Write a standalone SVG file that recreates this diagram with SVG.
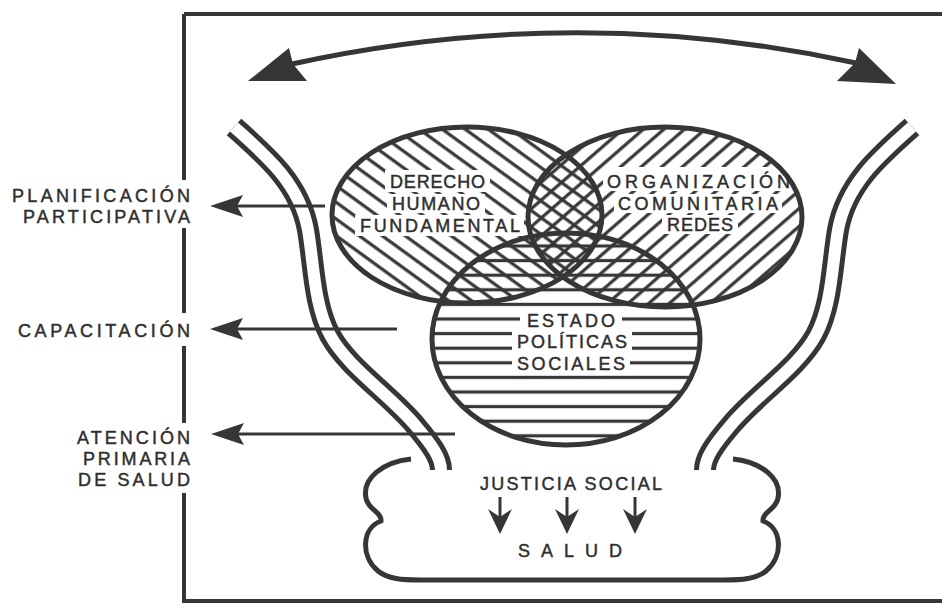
<svg xmlns="http://www.w3.org/2000/svg" width="942" height="606" viewBox="0 0 942 606">
<style>
.ln{fill:none;stroke:#363636;stroke-linecap:butt}
.ol{fill:none;stroke:#363636;stroke-width:5}
.tx{font-family:"Liberation Sans",Arial,sans-serif;font-size:18px;fill:#2e2e2e;stroke:#2e2e2e;stroke-width:0.45px}
.ko{fill:#fff}
.hd{fill:#363636}
</style>
<defs>
<pattern id="p1" patternUnits="userSpaceOnUse" width="60" height="13.5" patternTransform="rotate(36)"><rect y="5" width="60" height="3.2" fill="#363636"/></pattern>
<pattern id="p2" patternUnits="userSpaceOnUse" width="60" height="13.5" patternTransform="rotate(-41)"><rect y="5" width="60" height="3.2" fill="#363636"/></pattern>
<pattern id="p3" patternUnits="userSpaceOnUse" x="0" y="311.7" width="60" height="14.6"><rect y="5.7" width="60" height="3.2" fill="#363636"/></pattern>
</defs>
<rect width="942" height="606" fill="#fff"/>

<g id="frame" class="ln" stroke-width="4">
<path d="M184,14 H942"/>
<path d="M184,14 V180 M184,228 V313 M184,346 V423 M184,493 V601 H942"/>
</g>

<g id="top-arrow">
<path class="ln" stroke-width="5" d="M292,64 Q574,2 856,63"/>
<path class="hd" d="M248,81 L289,48 L293,64 L307,81 Z"/>
<path class="hd" d="M896,84 L859,48 L855,63 L837,81 Z"/>
</g>

<g id="vase">
<g id="vase-left">
<path class="ln" stroke-width="22" d="M234,127 C268,157 300,185 308,230 C314,265 314,305 330,335 C348,368 390,395 415,425 C432,445 441,458 441,470"/>
<path fill="none" stroke="#fff" stroke-width="12" d="M234,127 C268,157 300,185 308,230 C314,265 314,305 330,335 C348,368 390,395 415,425 C432,445 441,458 441,470"/>
</g>
<g id="vase-right" transform="translate(1146,0) scale(-1,1)">
<path class="ln" stroke-width="22" d="M234,127 C268,157 300,185 308,230 C314,265 314,305 330,335 C348,368 390,395 415,425 C432,445 441,458 441,470"/>
<path fill="none" stroke="#fff" stroke-width="12" d="M234,127 C268,157 300,185 308,230 C314,265 314,305 330,335 C348,368 390,395 415,425 C432,445 441,458 441,470"/>
</g>
</g>

<g id="circles">
<ellipse id="fill-derecho" cx="467" cy="215" rx="135" ry="88" fill="url(#p1)"/>
<ellipse id="fill-organizacion" cx="665" cy="217" rx="137" ry="90" fill="url(#p2)"/>
<ellipse id="fill-estado" cx="566" cy="339" rx="134" ry="106" fill="url(#p3)"/>
<g id="knockouts" class="ko">
<rect x="385" y="170" width="105" height="22"/>
<rect x="387" y="194" width="98" height="19"/>
<rect x="355" y="215" width="169" height="21"/>
<rect x="603" y="167" width="191" height="24"/>
<rect x="614" y="194" width="168" height="19"/>
<rect x="662" y="215" width="76" height="19"/>
<rect x="520" y="311" width="102" height="20"/>
<rect x="512" y="331" width="120" height="21"/>
<rect x="512" y="354" width="118" height="20"/>
</g>
<g id="circle-derecho">
<ellipse class="ol" cx="467" cy="215" rx="135" ry="88"/>
<text class="tx" x="390" y="188" textLength="95" lengthAdjust="spacing">DERECHO</text>
<text class="tx" x="392" y="210" textLength="88" lengthAdjust="spacing">HUMANO</text>
<text class="tx" x="360" y="232" textLength="160" lengthAdjust="spacing">FUNDAMENTAL</text>
</g>
<g id="circle-organizacion">
<ellipse class="ol" cx="665" cy="217" rx="137" ry="90"/>
<text class="tx" x="607" y="188" textLength="183" lengthAdjust="spacing">ORGANIZACIÓN</text>
<text class="tx" x="618" y="210" textLength="160" lengthAdjust="spacing">COMUNITARIA</text>
<text class="tx" x="667" y="231" textLength="66" lengthAdjust="spacing">REDES</text>
</g>
<g id="circle-estado">
<ellipse class="ol" cx="566" cy="339" rx="134" ry="106"/>
<text class="tx" x="527" y="327" textLength="88" lengthAdjust="spacing">ESTADO</text>
<text class="tx" x="517" y="348" textLength="110" lengthAdjust="spacing">POLÍTICAS</text>
<text class="tx" x="517" y="370" textLength="108" lengthAdjust="spacing">SOCIALES</text>
</g>
</g>

<g id="connectors">
<path class="ln" stroke-width="3" d="M325,206 H235"/>
<path class="hd" d="M210,206 L243,195 L237,206 L243,217 Z"/>
<path class="ln" stroke-width="3" d="M397,329 H235"/>
<path class="hd" d="M210,329 L243,318 L237,329 L243,340 Z"/>
<path class="ln" stroke-width="3" d="M455,434 H235"/>
<path class="hd" d="M211,434 L244,423 L238,434 L244,445 Z"/>
</g>

<g id="label-planificacion">
<text class="tx" x="12" y="202" textLength="178" lengthAdjust="spacing">PLANIFICACIÓN</text>
<text class="tx" x="23" y="223" textLength="167" lengthAdjust="spacing">PARTICIPATIVA</text>
</g>
<g id="label-capacitacion">
<text class="tx" x="18" y="337" textLength="172" lengthAdjust="spacing">CAPACITACIÓN</text>
</g>
<g id="label-atencion">
<text class="tx" x="77" y="444" textLength="113" lengthAdjust="spacing">ATENCIÓN</text>
<text class="tx" x="83" y="465" textLength="107" lengthAdjust="spacing">PRIMARIA</text>
<text class="tx" x="78" y="486" textLength="112" lengthAdjust="spacing">DE SALUD</text>
</g>

<g id="cloud">
<path class="ol" d="M411,459 C383,462 362,478 366,498 C368,510 382,512 381,521 C362,528 360,556 378,571 C388,579 402,580 420,580 L724,580 C742,580 756,579 766,571 C784,556 782,528 763,521 C762,512 776,510 778,498 C782,478 761,462 733,459"/>
<text class="tx" x="480" y="490" font-size="19" textLength="182" lengthAdjust="spacing">JUSTICIA SOCIAL</text>
<g id="down-arrows">
<path class="ln" stroke-width="3" d="M500,497 V520 M567,497 V520 M635,497 V520"/>
<path class="hd" d="M500,534 L488,509 L500,517 L512,509 Z M567,534 L555,509 L567,517 L579,509 Z M635,534 L623,509 L635,517 L647,509 Z"/>
</g>
<text class="tx" x="518" y="557" textLength="104" lengthAdjust="spacing">SALUD</text>
</g>
</svg>
